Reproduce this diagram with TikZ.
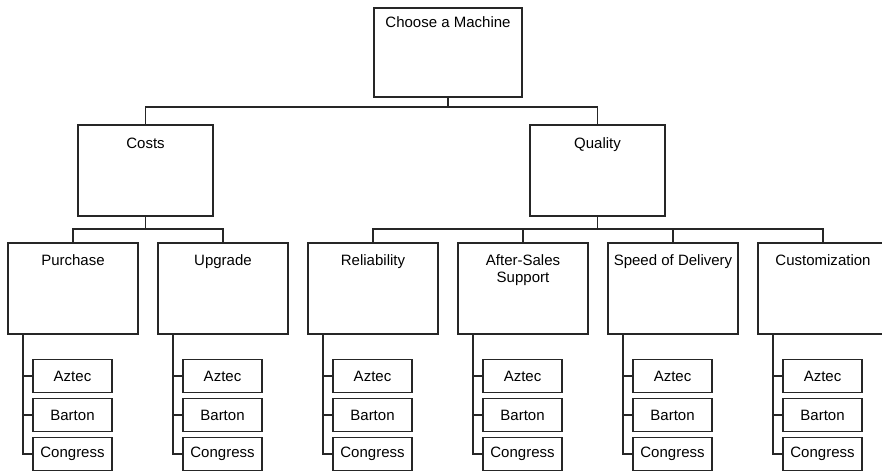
\documentclass[tikz,border=0pt]{standalone}
\usepackage{fontspec}
\setmainfont{Liberation Sans}
\begin{document}
\begin{tikzpicture}[x=1pt,y=-1pt,line width=1.1pt,
  box/.style={draw=black!85,inner sep=0pt,minimum width=#1},
  topbox/.style={box=148pt,minimum height=89pt},
  midbox/.style={box=135pt,minimum height=91pt},
  catbox/.style={box=130pt,minimum height=91pt},
  leafbox/.style={box=79pt,minimum height=33pt,font=\fontsize{15}{17}\selectfont},
  lbl/.style={inner sep=0pt,anchor=base,align=center,font=\fontsize{15}{17}\selectfont},
  conn/.style={draw=black!85}]
\useasboundingbox (0,0) rectangle (882,473);
\clip (0,0) rectangle (882,473);
% root
\node[topbox] (root) at (448,52.5) {};
\node[lbl] (rootT) at (448,28) {Choose a Machine};
% level 1
\node[midbox] (costs) at (145.5,170.5) {};
\node[lbl] (costsT) at (145.5,148.5) {Costs};
\node[midbox] (qual) at (597.5,170.5) {};
\node[lbl] (qualT) at (597.5,148.5) {Quality};
\coordinate (rootJ) at (448,107);
\draw[conn] (root.south) -- (rootJ);
\draw[conn] (costs.north) |- (rootJ) -| (qual.north);
% level 2
\foreach \n/\cx/\ty/\t in {pu/73/265.5/Purchase,up/223/265.5/Upgrade,re/373/265.5/Reliability,af/523/282.5/{After-Sales\\Support},sp/673/265.5/Speed of Delivery,cu/823/265.5/Customization}{
  \node[catbox] (\n) at (\cx,288.5) {};
  \node[lbl] (\n T) at (\cx,\ty) {\t};
  \node[leafbox] (\n1) at (\cx-0.5,376) {Aztec};
  \node[leafbox] (\n2) at (\cx-0.5,415) {Barton};
  \node[leafbox] (\n3) at (\cx-0.5,454) {Congress};
  \draw[conn] ([xshift=-50pt]\n.south) |- (\n3.west);
  \draw[conn] ([xshift=-10pt]\n1.west) -- (\n1.west);
  \draw[conn] ([xshift=-10pt]\n2.west) -- (\n2.west);
}
\coordinate (costsJ) at (145.5,229);
\coordinate (qualJ) at (597.5,229);
\draw[conn] (costs.south) -- (costsJ);
\draw[conn] (pu.north) |- (costsJ) -| (up.north);
\draw[conn] (qual.south) -- (qualJ);
\draw[conn] (re.north) |- (qualJ) -| (cu.north);
\draw[conn] (af.north) -- (af.north |- qualJ);
\draw[conn] (sp.north) -- (sp.north |- qualJ);
\end{tikzpicture}
\end{document}
